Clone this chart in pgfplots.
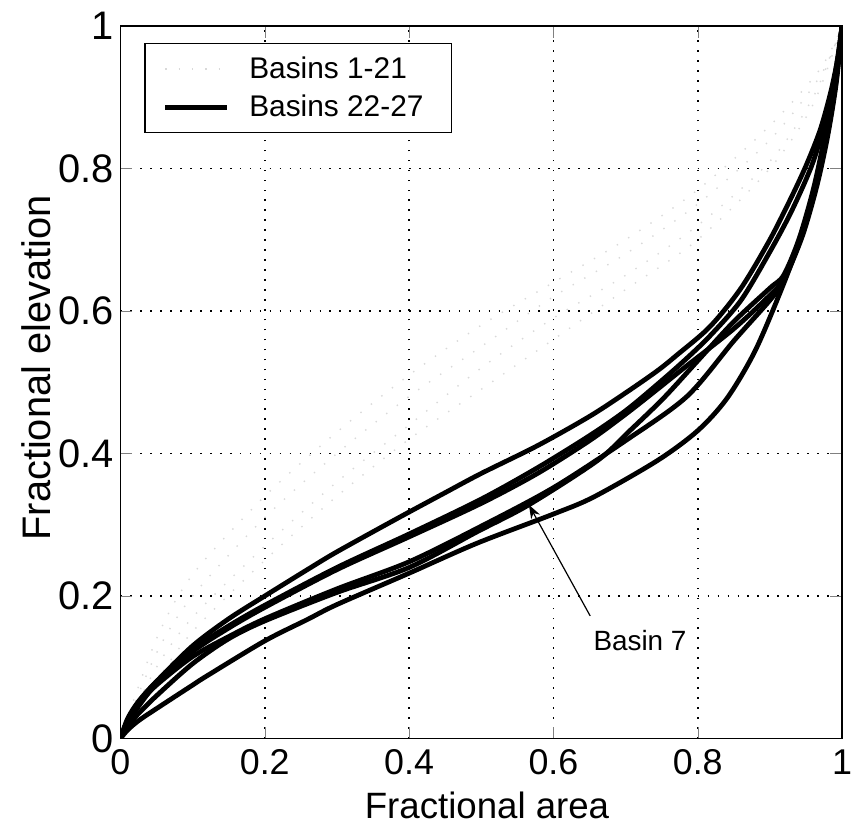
\documentclass[border=0pt]{standalone}
\usepackage{fontspec}
\setmainfont{Liberation Sans}
\usepackage{pgfplots}
\pgfplotsset{compat=1.18}
\usetikzlibrary{arrows.meta}

\begin{document}
\begin{tikzpicture}
\begin{axis}[
    scale only axis,
    width=362.5pt, height=358pt,
    xmin=0, xmax=1, ymin=0, ymax=1,
    xtick={0,0.2,0.4,0.6,0.8,1},
    ytick={0,0.2,0.4,0.6,0.8,1},
    tick align=inside,
    major tick length=6pt,
    grid=major,
    grid style={black, line width=0.8pt, dash pattern=on 0.8pt off 4.2pt},
    axis line style={line width=0.7pt},
    /pgf/number format/assume math mode=true,
    y tick label style={font=\fontsize{20}{24}\selectfont},
    x tick label style={font=\fontsize{18}{22}\selectfont, yshift=-2pt},
    xlabel={Fractional area},
    ylabel={Fractional elevation},
    xlabel style={font=\fontsize{18.4}{22}\selectfont,
        at={(axis description cs:0.508,-0.0934)}, anchor=center},
    ylabel style={font=\fontsize{20}{24}\selectfont,
        at={(axis description cs:-0.117,0.52)}, anchor=center},
    legend style={at={(axis description cs:0.033,0.976)}, anchor=north west,
        draw=black, line width=0.7pt, font=\fontsize{15}{18}\selectfont,
        inner xsep=9pt, inner ysep=3pt,
        nodes={inner xsep=5pt, inner ysep=3.5pt},
        /tikz/every odd column/.append style={column sep=5pt}},
    legend cell align=left,
    legend image code/.code={\draw[#1] (0pt,0pt) -- (31pt,0pt);},
]
\coordinate (o) at (rel axis cs:0,0);

% basins 1-21 (faint)
\addplot[gray!30, line width=0.7pt, dash pattern=on 0.7pt off 6pt, smooth] coordinates {
(0,0) (0.05,0.10) (0.1,0.17) (0.2,0.27) (0.3,0.36) (0.4,0.44) (0.5,0.52) (0.6,0.59) (0.7,0.65) (0.8,0.72) (0.9,0.81) (0.96,0.90) (1,1)};
\addlegendentry{Basins 1-21}
\addplot[forget plot, gray!30, line width=0.7pt, dash pattern=on 0.7pt off 6pt, smooth] coordinates {
(0,0) (0.05,0.12) (0.1,0.20) (0.2,0.31) (0.3,0.40) (0.4,0.48) (0.5,0.55) (0.6,0.62) (0.7,0.68) (0.8,0.75) (0.9,0.84) (0.97,0.93) (1,1)};
\addplot[forget plot, gray!30, line width=0.7pt, dash pattern=on 0.7pt off 6pt, smooth] coordinates {
(0,0) (0.05,0.08) (0.1,0.15) (0.2,0.25) (0.3,0.34) (0.4,0.42) (0.5,0.49) (0.6,0.56) (0.7,0.63) (0.8,0.70) (0.9,0.80) (0.96,0.89) (1,1)};
\addplot[forget plot, gray!30, line width=0.7pt, dash pattern=on 0.7pt off 6pt, smooth] coordinates {
(0,0) (0.05,0.14) (0.1,0.23) (0.2,0.34) (0.3,0.43) (0.4,0.51) (0.5,0.58) (0.6,0.64) (0.7,0.70) (0.8,0.77) (0.9,0.86) (0.97,0.94) (1,1)};

% basins 22-27
\addplot[black, line width=2.4pt, smooth, tension=0.5] coordinates {
(0,0) (0.01,0.025) (0.025,0.05) (0.05,0.08) (0.1,0.13) (0.15,0.168) (0.2,0.2) (0.259,0.237) (0.3,0.262) (0.384,0.309) (0.45,0.345) (0.5,0.372) (0.578,0.411) (0.65,0.452) (0.7,0.485) (0.744,0.516) (0.771,0.538) (0.817,0.578) (0.86,0.632) (0.9,0.7) (0.93,0.76) (0.951,0.806) (0.97,0.855) (0.985,0.91) (0.995,0.96) (1,1)};
\addlegendentry{Basins 22-27}
\addplot[forget plot, black, line width=2.4pt, smooth, tension=0.5] coordinates {
(0,0) (0.01,0.028) (0.025,0.052) (0.05,0.08) (0.1,0.125) (0.15,0.158) (0.2,0.187) (0.3,0.24) (0.4,0.287) (0.5,0.336) (0.578,0.38) (0.65,0.425) (0.7,0.46) (0.744,0.497) (0.781,0.53) (0.817,0.565) (0.86,0.615) (0.9,0.683) (0.93,0.74) (0.958,0.804) (0.975,0.86) (0.99,0.93) (1,1)};
\addplot[forget plot, black, line width=2.4pt, smooth, tension=0.5] coordinates {
(0,0) (0.01,0.022) (0.025,0.045) (0.05,0.077) (0.1,0.122) (0.15,0.155) (0.2,0.184) (0.3,0.237) (0.4,0.283) (0.5,0.33) (0.578,0.372) (0.65,0.418) (0.7,0.455) (0.744,0.49) (0.781,0.52) (0.85,0.575) (0.9,0.622) (0.919,0.645) (0.945,0.71) (0.965,0.78) (0.98,0.85) (0.992,0.925) (1,1)};
\addplot[forget plot, black, line width=2.4pt, smooth, tension=0.5] coordinates {
(0,0) (0.01,0.025) (0.025,0.048) (0.05,0.075) (0.1,0.115) (0.15,0.143) (0.2,0.168) (0.3,0.21) (0.4,0.248) (0.5,0.298) (0.6,0.352) (0.7,0.418) (0.785,0.48) (0.85,0.558) (0.9,0.615) (0.919,0.642) (0.945,0.705) (0.965,0.775) (0.98,0.845) (0.992,0.92) (1,1)};
\addplot[forget plot, black, line width=2.4pt, smooth, tension=0.5] coordinates {
(0,0) (0.01,0.018) (0.025,0.035) (0.05,0.06) (0.1,0.105) (0.15,0.14) (0.2,0.165) (0.3,0.205) (0.4,0.24) (0.494,0.29) (0.566,0.328) (0.661,0.39) (0.706,0.432) (0.753,0.478) (0.8,0.53) (0.85,0.585) (0.9,0.632) (0.919,0.65) (0.94,0.7) (0.96,0.77) (0.975,0.84) (0.99,0.92) (1,1)};
\addplot[forget plot, black, line width=2.4pt, smooth, tension=0.5] coordinates {
(0,0) (0.01,0.012) (0.025,0.025) (0.05,0.042) (0.1,0.075) (0.12,0.088) (0.2,0.137) (0.259,0.167) (0.3,0.188) (0.4,0.232) (0.494,0.274) (0.6,0.315) (0.656,0.339) (0.744,0.39) (0.8,0.432) (0.841,0.478) (0.88,0.545) (0.919,0.638) (0.945,0.71) (0.965,0.78) (0.98,0.85) (0.992,0.93) (1,1)};

\draw[-{Stealth[length=7pt,width=5pt]}, line width=0.6pt] (axis cs:0.651,0.172) -- (axis cs:0.566,0.328);
\node[font=\fontsize{14}{16}\selectfont] at (axis cs:0.72,0.137) {Basin 7};
\end{axis}
\pgfresetboundingbox
\path ([shift={(-60.5pt,-44pt)}]o) rectangle ([shift={(368.5pt,371pt)}]o);
\end{tikzpicture}
\end{document}
